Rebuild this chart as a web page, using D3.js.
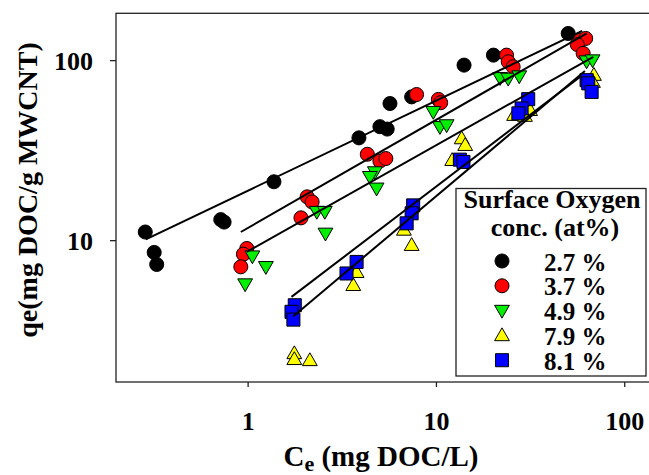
<!DOCTYPE html>
<html>
<head>
<meta charset="utf-8">
<script src="https://cdn.jsdelivr.net/npm/d3@7"></script>
<style>
    body { margin: 0; background: #fff; }
    svg text { font-family: "Liberation Serif", "Times New Roman", serif; font-weight: bold; fill: #000; }
</style>
</head>
<body>
<div id="chart"></div>
<script>
"use strict";

/***** data *****/

// Ce (mg DOC/L) and qe (mg DOC/g MWCNT), one pair of arrays per surface oxygen level
const ce27 = [0.286, 0.319, 0.329, 0.72, 0.75, 1.38, 3.90, 5.04, 5.51, 5.70, 7.43, 14.1, 20.2, 50.4],
    qe27 = [11.1, 8.55, 7.33, 13.0, 12.6, 21.1, 37.0, 42.7, 41.4, 57.4, 62.5, 93.8, 106.6, 140.6];

const ce37 = [0.99, 0.95, 0.92, 1.92, 2.07, 2.20, 4.32, 5.04, 5.42, 7.89, 10.3, 10.6, 23.7, 24.2, 25.7, 58.2, 62.4, 56.3, 60.5],
    qe37 = [8.99, 8.36, 7.11, 13.3, 17.4, 16.3, 30.0, 27.5, 28.4, 64.4, 60.5, 58.0, 106.6, 97.9, 91.8, 129, 132, 122, 109];

const ce49 = [1.06, 1.25, 0.97, 2.33, 2.57, 2.59, 4.74, 4.46, 4.84, 9.68, 10.5, 11.4, 21.9, 24.2, 27.7, 63.1, 67.9],
    qe49 = [8.15, 7.11, 5.70, 14.4, 14.4, 10.9, 23.9, 22.5, 19.4, 51.7, 42.6, 43.6, 79.7, 79.1, 81.5, 98.7, 100];

const ce79 = [1.77, 1.77, 2.14, 3.64, 3.79, 7.43, 6.76, 13.7, 14.3, 12.2, 31.6, 26.0, 29.7, 69.0, 68.2],
    qe79 = [2.35, 2.18, 2.15, 5.62, 6.64, 9.38, 11.4, 36.7, 33.7, 27.8, 52.7, 49.5, 48.9, 82.6, 75.5];

const ce81 = [1.78, 1.71, 1.75, 3.79, 3.35, 7.57, 7.43, 6.99, 13.4, 14.0, 30.9, 28.5, 27.4, 63.1, 64.4, 67.1],
    qe81 = [4.35, 4.00, 3.62, 7.57, 6.53, 15.6, 14.1, 12.4, 28.0, 27.2, 60.7, 53.9, 50.6, 77.4, 74.3, 66.6];

// fitted Freundlich lines, end points
const fitCe27 = [0.288, 59.8], fitQe27 = [10.09, 145.5];
const fitCe37 = [0.92, 63.2], fitQe37 = [11.1, 140.6];
const fitCe49 = [0.99, 68.5], fitQe49 = [8.61, 104.3];
const fitCe79 = [1.75, 61.8], fitQe79 = [3.78, 86.9];
const fitCe81 = [1.71, 58.9], fitQe81 = [4.84, 81.5];

const legendLabels = ["2.7 %", "3.7 %", "4.9 %", "7.9 %", "8.1 %"],
    seriesColors = ["#000000", "#ff0000", "#00ee00", "#ffff00", "#0000ff"],
    seriesShapes = ["circle", "circle", "down", "up", "square"];

const xTicks = [1, 10, 100],
    yTicks = [10, 100];


/***** domain & range *****/

const width = 649,
    height = 475,
    plotLeft = 116,
    plotRight = 650,
    plotTop = 13.3,
    plotBottom = 382;

let x = d3.scaleLog().domain([0.2, 137]).range([plotLeft, plotRight]),
    y = d3.scaleLog().domain([1.63, 182]).range([plotBottom, plotTop]);

let series = [
    {ce: ce27, qe: qe27, fitCe: fitCe27, fitQe: fitQe27},
    {ce: ce37, qe: qe37, fitCe: fitCe37, fitQe: fitQe37},
    {ce: ce49, qe: qe49, fitCe: fitCe49, fitQe: fitQe49},
    {ce: ce79, qe: qe79, fitCe: fitCe79, fitQe: fitQe79},
    {ce: ce81, qe: qe81, fitCe: fitCe81, fitQe: fitQe81}
].map((s, i) => ({
    ...s,
    color: seriesColors[i],
    shape: seriesShapes[i],
    points: s.ce.map((c, j) => [c, s.qe[j]])
}));

function symbolPath(shape) {
    if (shape == "circle") return d3.symbol(d3.symbolCircle, 155)();
    if (shape == "square") return d3.symbol(d3.symbolSquare, 170)();
    return d3.symbol(d3.symbolTriangle, 95)();
}

function symbolTransform(shape, px, py) {
    // d3 triangle points up; flip it for the 4.9 % series
    if (shape == "down") return `translate(${px}, ${py - 1}) rotate(180)`;
    if (shape == "up") return `translate(${px}, ${py + 1})`;
    return `translate(${px}, ${py})`;
}


/***** plot data *****/

let svg = d3.select("#chart")
    .append("svg")
    .attr("width", width)
    .attr("height", height);

// frame
svg.append("rect")
    .attr("x", plotLeft)
    .attr("y", plotTop)
    .attr("width", plotRight - plotLeft)
    .attr("height", plotBottom - plotTop)
    .attr("fill", "none")
    .attr("stroke", "#222")
    .attr("stroke-width", 1.3);

// axes
let xAxis = svg.append("g")
    .attr("transform", `translate(0, ${plotBottom})`)
    .call(d3.axisBottom(x).tickValues(xTicks).tickSize(5).tickFormat(d3.format("d")));

xAxis.select(".domain").remove();
xAxis.selectAll("line").attr("stroke", "#222").attr("stroke-width", 1.3);
xAxis.selectAll("text")
    .attr("y", 48)
    .attr("dy", 0)
    .attr("font-size", 26)
    .attr("fill", "#000");

let yAxis = svg.append("g")
    .attr("transform", `translate(${plotLeft}, 0)`)
    .call(d3.axisLeft(y).tickValues(yTicks).tickSize(6).tickFormat(d3.format("d")));

yAxis.select(".domain").remove();
yAxis.selectAll("line").attr("stroke", "#222").attr("stroke-width", 1.3);
yAxis.selectAll("text")
    .attr("x", -23)
    .attr("dy", "0.37em")
    .attr("font-size", 26)
    .attr("fill", "#000");

xAxis.attr("font-family", null);
yAxis.attr("font-family", null);

// points, drawn series by series so later ones sit on top
let groups = svg.append("g")
    .selectAll("g")
    .data(series)
    .enter()
    .append("g");

groups.selectAll("path")
    .data(d => d.points.map(p => ({p: p, color: d.color, shape: d.shape})))
    .enter()
    .append("path")
    .attr("d", d => symbolPath(d.shape))
    .attr("transform", d => symbolTransform(d.shape, x(d.p[0]), y(d.p[1])))
    .attr("fill", d => d.color)
    .attr("stroke", "#000")
    .attr("stroke-width", 1);

// fit lines on top of the markers
let line = d3.line().x(d => x(d[0])).y(d => y(d[1]));

svg.append("g")
    .selectAll("path")
    .data(series)
    .enter()
    .append("path")
    .attr("d", d => line(d.fitCe.map((c, j) => [c, d.fitQe[j]])))
    .attr("fill", "none")
    .attr("stroke", "#000")
    .attr("stroke-width", 2);

// axis titles
let xTitle = svg.append("text")
    .attr("x", 381)
    .attr("y", 466)
    .attr("text-anchor", "middle")
    .attr("font-size", 29);

xTitle.append("tspan").text("C");
xTitle.append("tspan").text("e").attr("font-size", 22).attr("dy", 5);
xTitle.append("tspan").text(" (mg DOC/L)").attr("dy", -5);

svg.append("text")
    .attr("transform", "translate(36.5, 190) rotate(-90)")
    .attr("text-anchor", "middle")
    .attr("font-size", 28)
    .text("qe(mg DOC/g MWCNT)");

// legend
let legend = svg.append("g");

legend.append("rect")
    .attr("x", 456)
    .attr("y", 188.5)
    .attr("width", 190)
    .attr("height", 187.5)
    .attr("fill", "#fff")
    .attr("stroke", "#222")
    .attr("stroke-width", 1.3);

legend.append("text")
    .attr("x", 552)
    .attr("y", 208)
    .attr("text-anchor", "middle")
    .attr("font-size", 26)
    .text("Surface Oxygen");

legend.append("text")
    .attr("x", 555)
    .attr("y", 236)
    .attr("text-anchor", "middle")
    .attr("font-size", 26)
    .text("conc. (at%)");

let items = legend.selectAll("g.item")
    .data(series)
    .enter()
    .append("g")
    .classed("item", true)
    .attr("transform", (d, i) => `translate(0, ${261 + i * 24.8})`);

items.append("path")
    .attr("d", d => symbolPath(d.shape))
    .attr("transform", d => symbolTransform(d.shape, 502, 0))
    .attr("fill", d => d.color)
    .attr("stroke", "#000")
    .attr("stroke-width", 1);

items.append("text")
    .attr("x", 544)
    .attr("y", 9.5)
    .attr("font-size", 25)
    .text((d, i) => legendLabels[i]);
</script>
</body>
</html>
